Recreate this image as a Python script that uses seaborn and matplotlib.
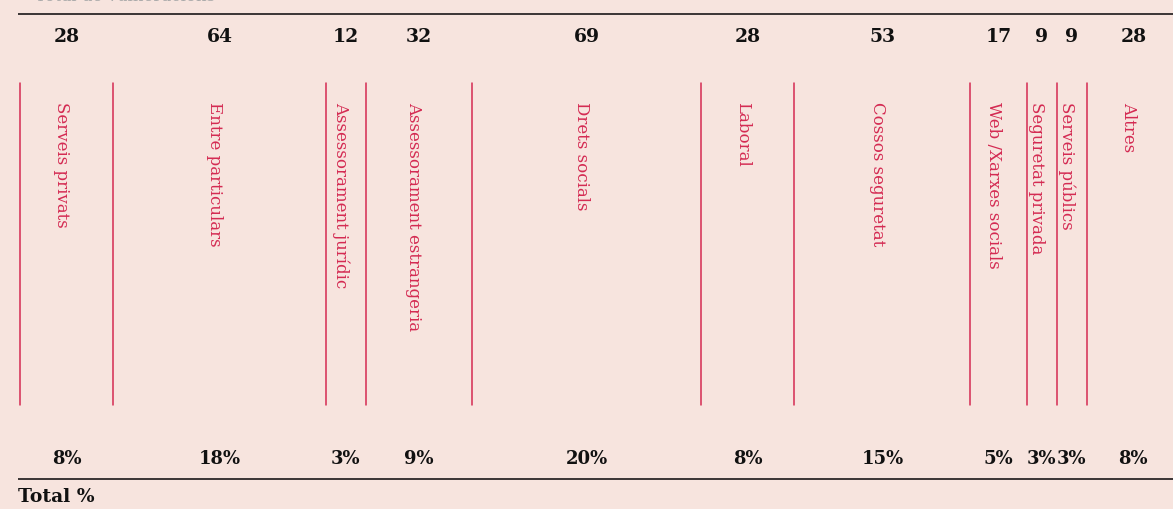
import numpy as np
import pandas as pd
import seaborn as sns
import matplotlib.pyplot as plt

# values
categories = ['Serveis privats', 'Entre particulars', 'Assessorament jurídic',
              'Assessorament estrangeria', 'Drets socials', 'Laboral',
              'Cossos seguretat', 'Web /Xarxes socials', 'Seguretat privada',
              'Serveis públics', 'Altres']
counts = [28, 64, 12, 32, 69, 28, 53, 17, 9, 9, 28]
percents = [8, 18, 3, 9, 20, 8, 15, 5, 3, 3, 8]

bg = '#f7e4de'
red = '#d42a52'

sns.set_theme(style='white', rc={'axes.facecolor': bg, 'figure.facecolor': bg})
plt.rcParams['font.family'] = ['DejaVu Serif', 'DejaVu Sans']

left = np.concatenate([[0], np.cumsum(counts)[:-1]])
mid = left + np.array(counts) / 2

fig = plt.figure(figsize=(11.73, 5.09), dpi=100)
ax = fig.add_axes([0, 0, 1, 1])

# x in data units (counts), y in pixel rows (top = 0)
px = 3.322
x0 = -20.4 / px
ax.set_xlim(x0, x0 + 1173 / px)
ax.set_ylim(509, 0)

# segment separators drawn as vertical lines through seaborn
sep = pd.DataFrame({
    'x': np.repeat(left, 2),
    'y': np.tile([83, 405], len(left)),
    'cat': np.repeat(categories, 2),
})
sns.lineplot(data=sep, x='x', y='y', units='cat', estimator=None, sort=False,
             color=red, lw=1.1, ax=ax)

# top and bottom rules
ax.hlines([14, 479], x0 + 18 / px, x0 + 1173 / px, color='#3a3535', lw=1.4)

for m, name, c, p in zip(mid, categories, counts, percents):
    ax.text(m, 37, str(c), ha='center', va='center', fontsize=13.5,
            fontweight='bold', color='#111111')
    ax.text(m, 459, f'{p}%', ha='center', va='center', fontsize=13,
            fontweight='bold', color='#111111')
    ax.text(m - 1.5, 102, name, rotation=-90, ha='center', va='top',
            fontsize=12, color=red)

ax.text(x0 + 18 / px, 497, 'Total %', ha='left', va='center', fontsize=13.5,
        fontweight='bold', color='#111111')
# title above the chart, mostly cut off by the top edge as in the reference
ax.text(x0 + 35 / px, 0.8, 'Total de vulneracions', ha='left', va='baseline',
        fontsize=12, color='#aaaaaa')

ax.set_axis_off()
fig.savefig('out.png', dpi=100, facecolor=bg)
